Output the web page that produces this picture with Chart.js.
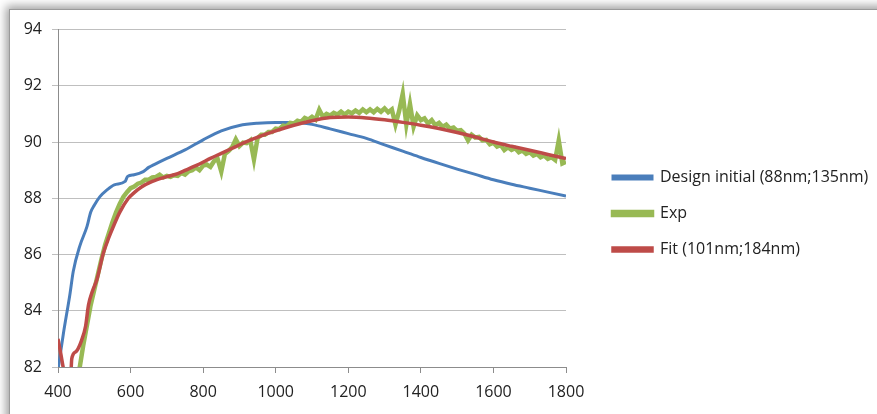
<!DOCTYPE html>
<html>
<head>
<meta charset="utf-8">
<script src="https://cdn.jsdelivr.net/npm/chart.js@4/dist/chart.umd.min.js"></script>
<style>
  body { margin: 0; background: #ffffff; overflow: hidden; }
  .frame {
    position: absolute; left: 9px; top: 9px; width: 900px; height: 430px;
    background: #fff; border-left: 1px solid #9a9a9a; border-top: 1px solid #9a9a9a;
    box-shadow: 0 0 9px 3px rgba(0,0,0,0.38);
  }
  #graphe { position: absolute; left: 0; top: 0; }
</style>
</head>
<body>
<div class="frame"><canvas id="graphe" width="867" height="404"></canvas></div>
<script>
// Courbe de conception initiale
const designX = [400, 415, 433, 442, 460, 480, 490, 500, 515, 535, 555, 585, 592, 610, 635, 650, 665, 700, 750, 800, 850, 900, 950, 1000, 1050, 1100, 1150, 1200, 1250, 1300, 1350, 1400, 1450, 1500, 1550, 1600, 1650, 1700, 1750, 1800];
const designY = [81.9, 83.2, 84.6, 85.4, 86.3, 87.0, 87.5, 87.75, 88.05, 88.3, 88.48, 88.6, 88.78, 88.84, 88.95, 89.1, 89.2, 89.42, 89.72, 90.08, 90.4, 90.59, 90.67, 90.7, 90.7, 90.63, 90.47, 90.3, 90.13, 89.9, 89.68, 89.45, 89.24, 89.04, 88.85, 88.66, 88.5, 88.36, 88.22, 88.08];

// Mesure experimentale
const expX = [
  450, 460, 470, 480, 490, 500, 510, 520, 530, 540,
  550, 560, 570, 580, 590, 600, 610, 620, 630, 640,
  650, 660, 670, 680, 690, 700, 710, 720, 730, 740,
  750, 760, 770, 780, 790, 800, 810, 820, 830, 840,
  850, 860, 870, 880, 890, 900, 910, 920, 930, 940,
  950, 960, 970, 980, 990, 1000, 1010, 1020, 1030, 1040,
  1050, 1060, 1070, 1080, 1090, 1100, 1110, 1120, 1130, 1140,
  1150, 1160, 1170, 1180, 1190, 1200, 1210, 1220, 1230, 1240,
  1250, 1260, 1270, 1280, 1290, 1300, 1310, 1320, 1330, 1340,
  1350, 1360, 1370, 1380, 1390, 1400, 1410, 1420, 1430, 1440,
  1450, 1460, 1470, 1480, 1490, 1500, 1510, 1520, 1530, 1540,
  1550, 1560, 1570, 1580, 1590, 1600, 1610, 1620, 1630, 1640,
  1650, 1660, 1670, 1680, 1690, 1700, 1710, 1720, 1730, 1740,
  1750, 1760, 1770, 1780, 1790, 1800];
const expY = [
  81.6, 82.0, 82.8, 83.5, 84.2, 84.75, 85.3, 85.85, 86.35, 86.75,
  87.15, 87.5, 87.8, 88.05, 88.22, 88.36, 88.42, 88.52, 88.56, 88.66,
  88.66, 88.74, 88.76, 88.84, 88.74, 88.8, 88.76, 88.82, 88.8, 88.9,
  88.84, 88.96, 89.0, 89.1, 89.0, 89.16, 89.2, 89.12, 89.32, 89.4,
  88.95, 89.58, 89.68, 89.82, 90.1, 89.86, 89.98, 89.96, 90.06, 89.38,
  90.14, 90.26, 90.26, 90.36, 90.36, 90.48, 90.46, 90.58, 90.56, 90.68,
  90.66, 90.76, 90.72, 90.86, 90.8, 90.9, 90.8, 91.15, 90.9, 91.0,
  90.94, 91.04, 90.98, 91.08, 90.98, 91.08, 91.02, 91.12, 91.04, 91.16,
  91.06, 91.16, 91.06, 91.18, 91.08, 91.2, 91.06, 91.16, 90.62, 91.1,
  91.72, 90.62, 91.35, 90.55, 90.95, 90.78, 90.84, 90.66, 90.78, 90.6,
  90.68, 90.54, 90.62, 90.48, 90.52, 90.4, 90.42, 90.3, 90.06, 90.26,
  90.16, 90.18, 90.06, 90.08, 89.92, 89.98, 89.84, 89.9, 89.72, 89.82,
  89.72, 89.78, 89.64, 89.7, 89.58, 89.64, 89.52, 89.58, 89.46, 89.52,
  89.4, 89.46, 89.36, 90.06, 89.24, 89.3];

// Ajustement
const fitX = [400, 408, 415, 425, 435, 438, 450, 465, 476, 484, 495, 507, 525, 540, 552, 570, 594, 610, 630, 660, 700, 730, 760, 790, 820, 850, 880, 910, 940, 975, 1000, 1050, 1100, 1150, 1200, 1250, 1300, 1350, 1400, 1450, 1500, 1550, 1600, 1650, 1700, 1750, 1800];
const fitY = [83.0, 82.45, 81.95, 81.6, 81.7, 82.3, 82.55, 82.95, 83.45, 84.2, 84.7, 85.1, 86.05, 86.6, 86.98, 87.5, 88.0, 88.2, 88.4, 88.6, 88.77, 88.88, 89.05, 89.22, 89.42, 89.6, 89.78, 89.96, 90.12, 90.29, 90.4, 90.6, 90.76, 90.87, 90.89, 90.86, 90.79, 90.7, 90.6, 90.48, 90.34, 90.18, 90.0, 89.85, 89.71, 89.56, 89.41];

const xTicks = [400, 600, 800, 1000, 1200, 1400, 1600, 1800];
const yTicks = [82, 84, 86, 88, 90, 92, 94];

const pts = (xs, ys) => xs.map((x, i) => ({ x: x, y: ys[i] }));

const ctx = document.getElementById('graphe').getContext('2d');
Chart.defaults.font.family = '"Open Sans", sans-serif';
Chart.defaults.color = '#222';

const graphe = new Chart(ctx, {
  type: 'line',
  data: {
    datasets: [
      {
        label: 'Design initial (88nm;135nm)',
        data: pts(designX, designY),
        borderColor: '#4a7ebb', backgroundColor: '#4a7ebb',
        borderWidth: 3, pointRadius: 0, tension: 0.4, cubicInterpolationMode: 'monotone',
        order: 3,
      },
      {
        label: 'Exp',
        data: pts(expX, expY),
        borderColor: '#98b954', backgroundColor: '#98b954',
        borderWidth: 4.5, pointRadius: 0, tension: 0,
        order: 2,
      },
      {
        label: 'Fit (101nm;184nm)',
        data: pts(fitX, fitY),
        borderColor: '#be4b48', backgroundColor: '#be4b48',
        borderWidth: 3.5, pointRadius: 0, tension: 0.4, cubicInterpolationMode: 'monotone',
        order: 1,
      },
    ],
  },
  options: {
    responsive: false,
    animation: false,
    layout: { padding: { top: 19, bottom: 16, left: 0, right: 0 } },
    plugins: {
      tooltip: { enabled: false },
      legend: {
        position: 'right',
        maxWidth: 284,
        labels: {
          boxWidth: 39, boxHeight: 3, padding: 20,
          font: { size: 16 }, color: '#222',
          sort: (a, b) => a.datasetIndex - b.datasetIndex,
        },
      },
    },
    scales: {
      x: {
        type: 'linear', min: 400, max: 1800,
        afterBuildTicks: (s) => { s.ticks = xTicks.map(v => ({ value: v })); },
        afterFit: (s) => { s.height = 31; },
        grid: { drawOnChartArea: false, drawTicks: true, tickLength: 6, color: '#8c8c8c' },
        border: { color: '#8c8c8c' },
        ticks: { padding: 10, font: { size: 16 }, color: '#222', maxRotation: 0, callback: (v) => String(v) },
      },
      y: {
        min: 82, max: 94,
        afterBuildTicks: (s) => { s.ticks = yTicks.map(v => ({ value: v })); },
        afterFit: (s) => { s.width = 48; },
        grid: { color: '#bfbfbf', tickLength: 6 },
        border: { color: '#8c8c8c' },
        ticks: { padding: 10, font: { size: 16 }, color: '#222' },
      },
      marge: {
        position: 'right',
        afterFit: (s) => { s.width = 27; },
        grid: { display: false },
        border: { display: false },
        ticks: { display: false },
      },
    },
  },
});
</script>
</body>
</html>
